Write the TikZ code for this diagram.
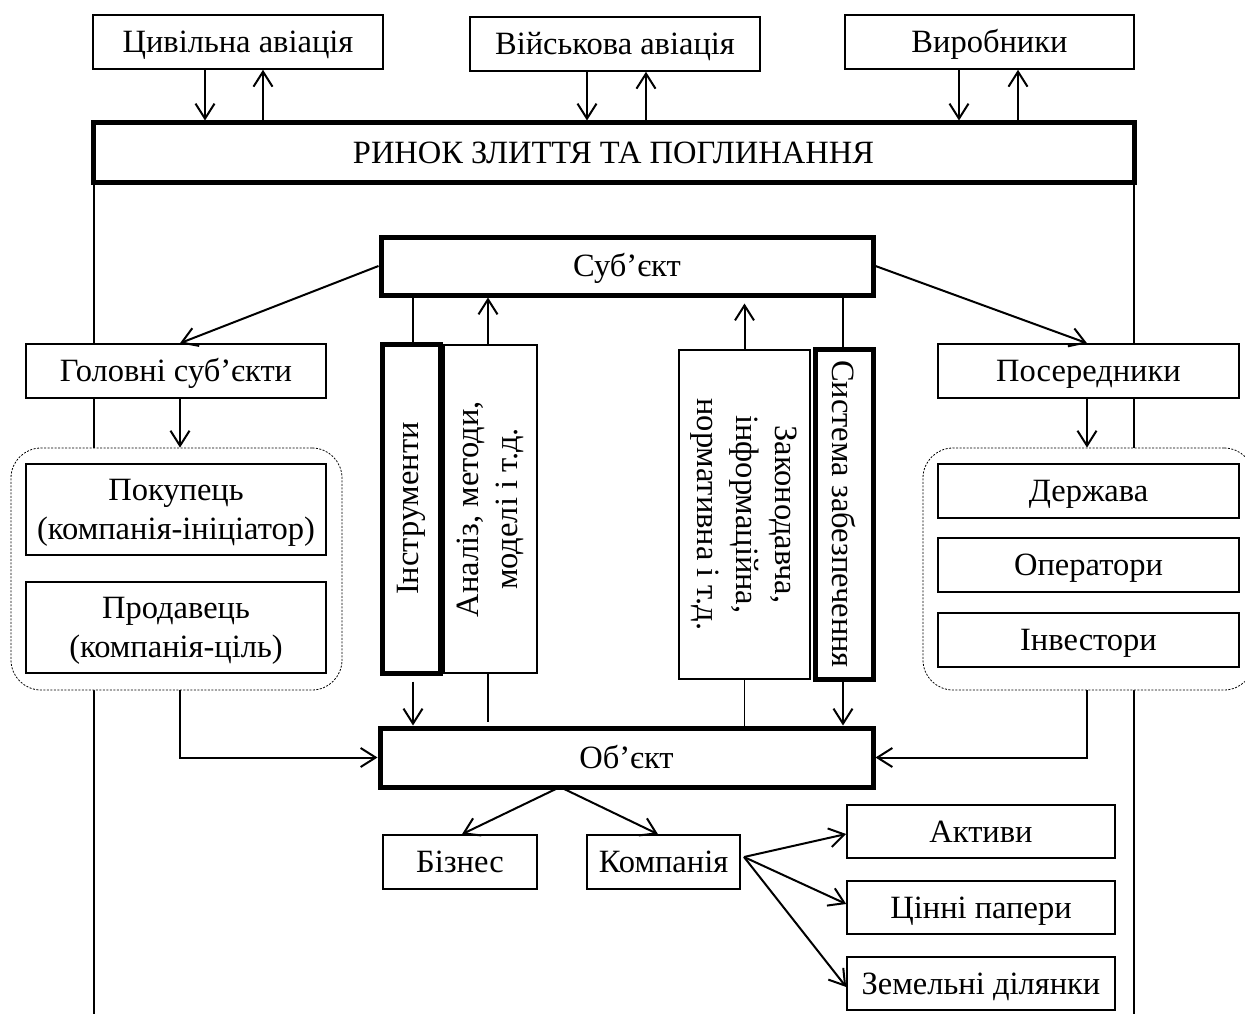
\documentclass[tikz,border=0pt]{standalone}
\usepackage{fontspec}
\usepackage{graphicx}
\setmainfont{Liberation Serif}
\usetikzlibrary{arrows.meta,backgrounds,calc}
\begin{document}
\begin{tikzpicture}[x=1pt,y=-1pt,
  every node/.style={font=\fontsize{32.5}{39}\selectfont},
  rbox/.style={draw,line width=1.6pt,fill=white,inner sep=0pt},
  box/.style={rbox,align=center,text height=26pt,text depth=4.5pt},
  twoline/.style={text height=65pt,text depth=4.5pt},
  tbox/.style={box,line width=5pt},
  trbox/.style={rbox,line width=5pt},
  grp/.style={draw,dash pattern=on 2pt off 1.5pt,line width=0.8pt,rounded corners=30pt,fill=white,inner sep=0pt},
  arr/.style={line width=2pt,-{Straight Barb[length=15pt,width=19pt,line width=2pt]}},
  ln/.style={line width=1.5pt}]
\useasboundingbox (0,0) rectangle (1245,1014);

% top row
\node[box,minimum width=290pt,minimum height=54pt] (civ) at (238,42) {Цивільна авіація};
\node[box,minimum width=290pt,minimum height=54pt] (mil) at (615,44) {Військова авіація};
\node[box,minimum width=289pt,minimum height=54pt] (vyr) at (989.5,42) {Виробники};
\node[tbox,minimum width=1041pt,minimum height=59pt] (market) at (613.5,152.5) {РИНОК ЗЛИТТЯ ТА ПОГЛИНАННЯ};

% subject
\node[tbox,minimum width=492pt,minimum height=58pt] (subj) at (627,266) {Суб’єкт};

% left side
\node[box,minimum width=300pt,minimum height=54pt] (golov) at (176,371) {Головні суб’єкти};
\node[grp,minimum width=331pt,minimum height=242pt] (grpL) at (176.5,569) {};
\node[box,twoline,minimum width=300pt,minimum height=91pt] (pokup) at (176,509.5) {Покупець\\(компанія-ініціатор)};
\node[box,twoline,minimum width=300pt,minimum height=91pt] (prodav) at (176,627.5) {Продавець\\(компанія-ціль)};

% right side
\node[box,minimum width=301pt,minimum height=54pt] (posered) at (1088.5,371) {Посередники};
\node[grp,minimum width=331pt,minimum height=242pt] (grpR) at (1088.5,569) {};
\node[box,minimum width=301pt,minimum height=54pt] (derzh) at (1088.5,491) {Держава};
\node[box,minimum width=301pt,minimum height=54pt] (oper) at (1088.5,565) {Оператори};
\node[box,minimum width=301pt,minimum height=54pt] (invest) at (1088.5,640) {Інвестори};

% vertical boxes
\node[trbox,minimum width=58pt,minimum height=329pt] (instr) at (411,508.5) {\rotatebox{90}{Інструменти}};
\node[rbox,minimum width=93pt,minimum height=328pt] (analiz) at (490.5,509) {\rotatebox{90}{\begin{tabular}{@{}c@{}}Аналіз, методи,\\моделі і т.д.\end{tabular}}};
\node[rbox,minimum width=131pt,minimum height=329pt] (zakon) at (744.5,514.5) {\rotatebox{-90}{\begin{tabular}{@{}c@{}}Законодавча,\\інформаційна,\\нормативна і т.д.\end{tabular}}};
\node[trbox,minimum width=58pt,minimum height=330pt] (system) at (844,514) {\rotatebox{-90}{Система забезпечення}};

% object
\node[tbox,minimum width=493pt,minimum height=59pt] (obj) at (626.5,757.5) {Об’єкт};
\node[box,minimum width=154pt,minimum height=54pt] (biz) at (460,862) {Бізнес};
\node[box,minimum width=153pt,minimum height=54pt] (comp) at (663.5,862) {Компанія};
\node[box,minimum width=268pt,minimum height=53pt] (aktyvy) at (981,831.5) {Активи};
\node[box,minimum width=268pt,minimum height=53pt] (cinni) at (981,907.5) {Цінні папери};
\node[box,minimum width=268pt,minimum height=53pt] (zemel) at (981,983.5) {Земельні ділянки};

% long side lines (behind boxes)
\coordinate (bl) at (94,1020);
\coordinate (br) at (1134,1020);
\begin{pgfonlayer}{background}
\draw[ln] (market.south west -| bl) -- (bl);
\draw[ln] (market.south east -| br) -- (br);
\end{pgfonlayer}

% market arrows
\draw[arr] ([xshift=-33pt]civ.south) -- ([xshift=-33pt]civ.south |- market.north);
\draw[arr] ([xshift=25pt]civ.south |- market.north) -- ([xshift=25pt]civ.south);
\draw[arr] ([xshift=-28pt]mil.south) -- ([xshift=-28pt]mil.south |- market.north);
\draw[arr] ([xshift=31pt]mil.south |- market.north) -- ([xshift=31pt]mil.south);
\draw[arr] ([xshift=-30.5pt]vyr.south) -- ([xshift=-30.5pt]vyr.south |- market.north);
\draw[arr] ([xshift=28.5pt]vyr.south |- market.north) -- ([xshift=28.5pt]vyr.south);

% subject links
\draw[arr] (subj.west) -- ([xshift=4pt]golov.north);
\draw[arr] (subj.east) -- ([xshift=-1.5pt]posered.north);
\draw[arr] ([xshift=4pt]golov.south) -- ([xshift=4pt]golov.south |- grpL.north);
\draw[arr] ([xshift=-1.5pt]posered.south) -- ([xshift=-1.5pt]posered.south |- grpR.north);

\draw[ln] ([xshift=2pt]instr.north) -- ([xshift=2pt]instr.north |- subj.south);
\draw[arr] ([xshift=-2.5pt]analiz.north) -- ([xshift=-2.5pt]analiz.north |- subj.south);
\draw[arr,shorten >=6pt] (zakon.north) -- (zakon.north |- subj.south);
\draw[ln] ([xshift=-1pt]system.north) -- ([xshift=-1pt]system.north |- subj.south);

\draw[arr,shorten <=6pt] ([xshift=2pt]instr.south) -- ([xshift=2pt]instr.south |- obj.north);
\draw[ln,shorten >=4pt] ([xshift=-2.5pt]analiz.south) -- ([xshift=-2.5pt]analiz.south |- obj.north);
\draw[ln] (zakon.south) -- (zakon.south |- obj.north);
\draw[arr] ([xshift=-1pt]system.south) -- ([xshift=-1pt]system.south |- obj.north);

% groups to object
\draw[arr] ([xshift=3.5pt]grpL.south) |- (obj.west);
\draw[arr] ([xshift=-1.5pt]grpR.south) |- (obj.east);

% object children
\coordinate (os) at (560,787);
\draw[arr] (os) -- ([xshift=2pt]biz.north);
\draw[arr] (os) -- ([xshift=-5.5pt]comp.north);
\coordinate (cs) at (744,857);
\draw[arr] (cs) -- ([yshift=-2.5pt]aktyvy.west);
\draw[arr] (cs) -- ([yshift=3.5pt]cinni.west);
\draw[arr] (cs) -- ([yshift=-3.5pt]zemel.west);
\end{tikzpicture}
\end{document}
